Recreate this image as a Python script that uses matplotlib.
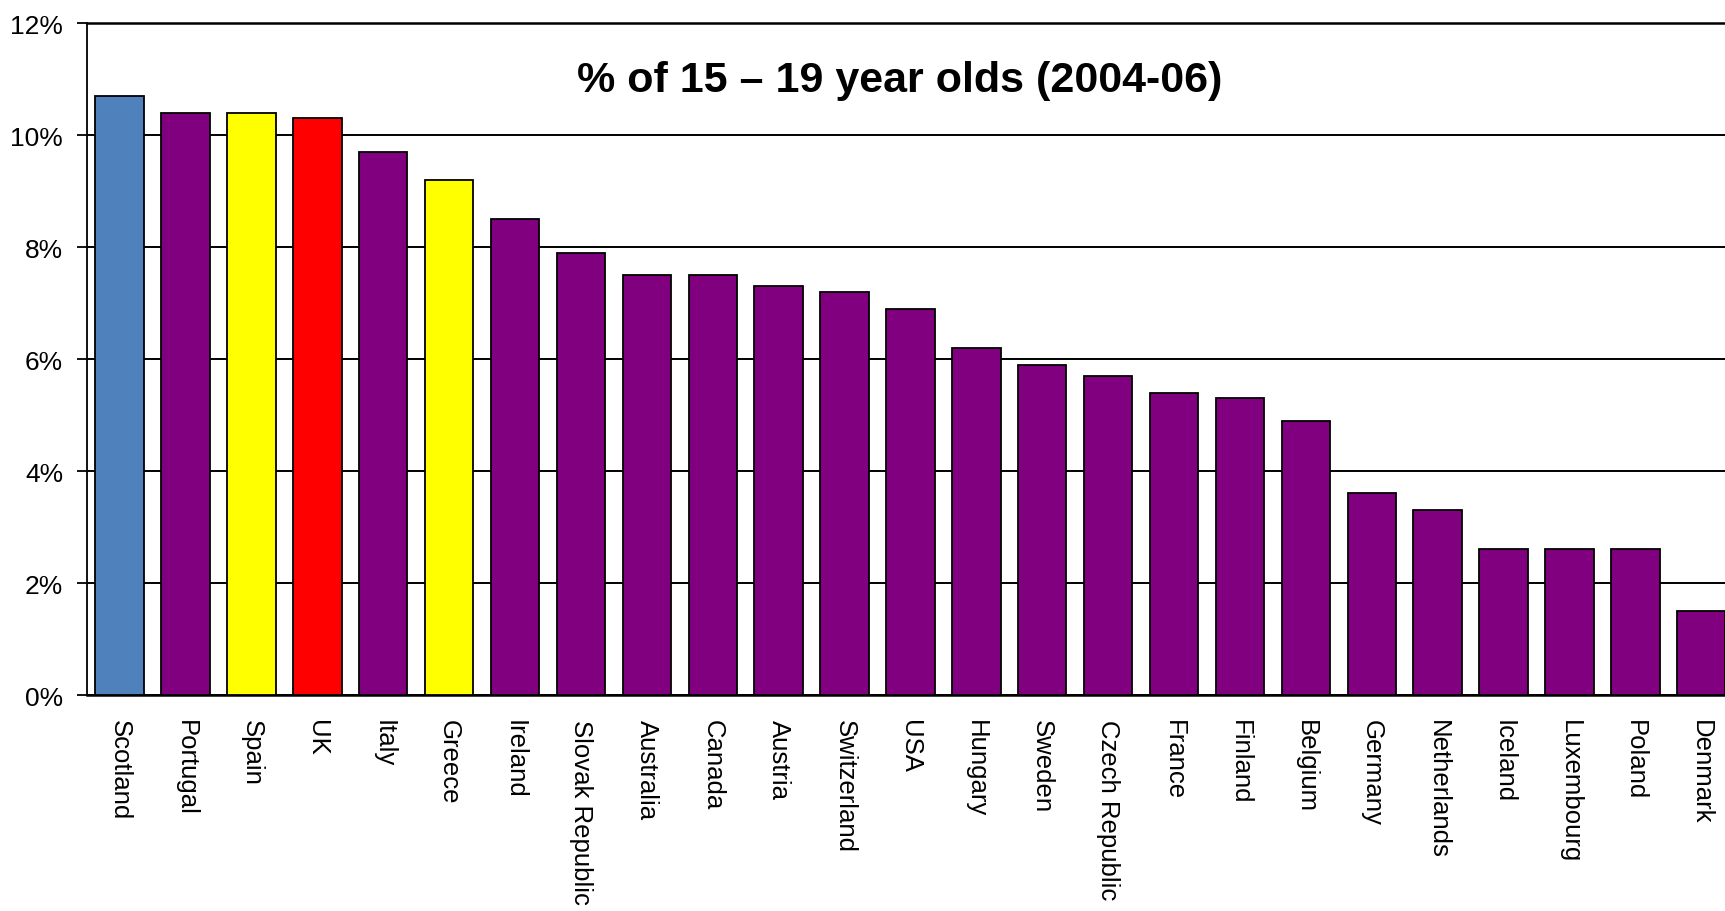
import matplotlib
matplotlib.use("Agg")
import matplotlib.pyplot as plt

countries = ["Scotland", "Portugal", "Spain", "UK", "Italy", "Greece", "Ireland",
             "Slovak Republic", "Australia", "Canada", "Austria", "Switzerland", "USA",
             "Hungary", "Sweden", "Czech Republic", "France", "Finland", "Belgium",
             "Germany", "Netherlands", "Iceland", "Luxembourg", "Poland", "Denmark"]
values = [10.7, 10.4, 10.4, 10.3, 9.7, 9.2, 8.5, 7.9, 7.5, 7.5, 7.3, 7.2, 6.9,
          6.2, 5.9, 5.7, 5.4, 5.3, 4.9, 3.6, 3.3, 2.6, 2.6, 2.6, 1.5]
highlight = {"Scotland": "#4F81BD", "Spain": "#FFFF00", "Greece": "#FFFF00", "UK": "#FF0000"}
default_color = "#800080"
yticks = [0, 2, 4, 6, 8, 10, 12]
ytick_labels = ["0%", "2%", "4%", "6%", "8%", "10%", "12%"]
title = "% of 15 \u2013 19 year olds (2004-06)"

plt.rcParams['font.family'] = ['Liberation Sans', 'DejaVu Sans']

fig = plt.figure(figsize=(17.25, 9.12), dpi=100)
ax = fig.add_axes([86.7 / 1725, 1 - 696 / 912, 1647.5 / 1725, (696 - 24) / 912])

colors = [highlight.get(c, default_color) for c in countries]
x = list(range(len(countries)))
ax.bar(x, values, width=0.735, color=colors, edgecolor="black", linewidth=1.3, zorder=3)

ax.set_xlim(-0.5, len(countries) - 0.5)
ax.set_ylim(0, 12)
ax.set_yticks(yticks)
ax.set_yticklabels(ytick_labels, fontsize=19)
ax.set_xticks(x)
ax.set_xticklabels(countries, rotation=270, fontsize=18.5, va="top", ha="center")
ax.tick_params(axis="x", length=0, pad=17)
ax.tick_params(axis="y", length=7, width=1.3, pad=10, direction="out")

ax.yaxis.grid(True, color="black", linewidth=1.4, zorder=0)
ax.set_axisbelow(True)
ax.spines["right"].set_visible(False)
ax.spines["top"].set_linewidth(1.8)
ax.spines["left"].set_linewidth(1.3)
ax.spines["bottom"].set_linewidth(1.8)

fig.text(900 / 1725, 1 - 81 / 912, title, fontsize=31, fontweight="bold",
         ha="center", va="center")

fig.savefig("out.png", dpi=100)
